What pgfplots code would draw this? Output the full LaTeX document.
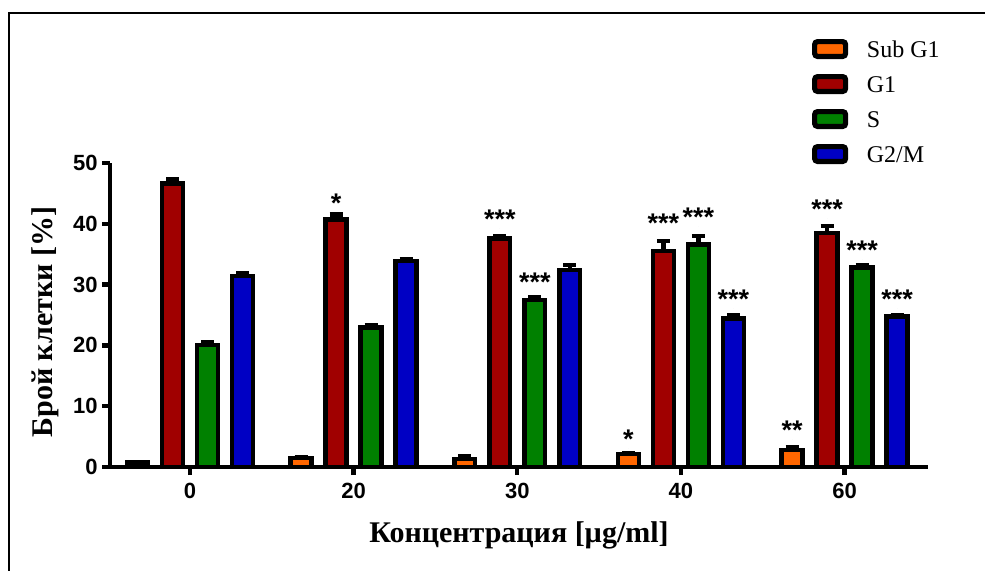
\documentclass[border=0pt]{standalone}
\usepackage{pgfplots}
\pgfplotsset{compat=1.18}
\usepackage{fontspec}
\setmainfont{Liberation Serif}
\newfontfamily\sansfnt{Liberation Sans}
\definecolor{cOr}{HTML}{FF6600}
\definecolor{cRe}{HTML}{A00000}
\definecolor{cGr}{HTML}{008000}
\definecolor{cBl}{HTML}{0000C4}
\pgfplotsset{
  mybar/.style={
    ybar, bar width=10.4pt, bar shift=#1, draw=black, line width=2.3pt,
    legend image code/.code={
      \draw[##1, line width=2.6pt, rounded corners=1.5pt] (0pt,0.3pt) rectangle (15.5pt,7.7pt);
      \path (25pt,4pt);
    },
    error bars/y dir=plus, error bars/y explicit,
    error bars/error bar style={line width=2.2pt, black, xshift=#1},
    error bars/error mark options={rotate=90, line width=2.2pt, mark size=3.25pt, black},
  },
}
\begin{document}
\begin{tikzpicture}
\useasboundingbox (0pt,0pt) rectangle (492.5pt,285pt);
\draw[line width=1.25pt] (4.5pt,-5pt) -- (4.5pt,278.6pt) -- (500pt,278.6pt);
\begin{axis}[
  at={(55pt,51.5pt)}, anchor=south west,
  scale only axis, width=409pt, height=152pt,
  xmin=-0.489, xmax=4.51, ymin=0, ymax=50,
  axis x line=bottom, axis y line=left,
  axis line style={line width=2.2pt, -},
  xtick={0,1,2,3,4}, xticklabels={0,20,30,40,60},
  ytick={0,10,20,30,40,50},
  tick align=outside, major tick length=4pt,
  tick style={line width=2.2pt, black},
  /pgf/number format/assume math mode=true,
  ticklabel style={font=\sansfnt\bfseries\fontsize{11}{11}\selectfont},
  xticklabel style={inner sep=0pt, anchor=north, yshift=-4pt},
  yticklabel style={inner sep=0pt, anchor=east, xshift=-2pt},
  xlabel={Концентрация [µg/ml]},
  ylabel={Брой клетки [\%]},
  label style={font=\bfseries\fontsize{15}{18}\selectfont},
  xlabel style={at={(axis description cs:0.5,-0.249)}, anchor=base},
  ylabel style={at={(axis description cs:-0.0795,0.477)}, anchor=center},
  legend style={at={(axis description cs:0.8582,1.4079)}, anchor=north west,
    draw=none, fill=none, inner sep=0pt, outer sep=0pt, row sep=5.5pt,
    font=\fontsize{12}{14}\selectfont,
    cells={anchor=base west},
    nodes={inner sep=0pt, text height=9pt, text depth=3pt}},
  clip=false,
]
\addplot[mybar=-26.25pt, fill=cOr] coordinates {
  (0,0.7) +- (0,0.1)
  (1,1.45) +- (0,0.1)
  (2,1.35) +- (0,0.5)
  (3,2.15) +- (0,0.1)
  (4,2.8) +- (0,0.5)
};
\addlegendentry{Sub G1}
\addplot[mybar=-8.75pt, fill=cRe] coordinates {
  (0,46.6) +- (0,0.7)
  (1,40.7) +- (0,0.8)
  (2,37.6) +- (0,0.4)
  (3,35.5) +- (0,1.7)
  (4,38.5) +- (0,1.1)
};
\addlegendentry{G1}
\addplot[mybar=8.75pt, fill=cGr] coordinates {
  (0,20.1) +- (0,0.5)
  (1,22.9) +- (0,0.5)
  (2,27.5) +- (0,0.4)
  (3,36.6) +- (0,1.4)
  (4,32.8) +- (0,0.4)
};
\addlegendentry{S}
\addplot[mybar=26.25pt, fill=cBl] coordinates {
  (0,31.4) +- (0,0.4)
  (1,33.9) +- (0,0.3)
  (2,32.4) +- (0,0.8)
  (3,24.4) +- (0,0.6)
  (4,24.8) +- (0,0.2)
};
\addlegendentry{G2/M}
\addplot[forget plot, only marks, mark=*, mark size=0pt, mark options={draw=none, fill=none},
  nodes near coords, point meta=explicit symbolic,
  nodes near coords style={anchor=base, inner sep=0pt, font=\sansfnt\bfseries\fontsize{13.5}{13.5}\selectfont}]
  table[meta=lab] {
x y lab
0.893 41.8 *
1.893 39.2 ***
2.107 28.9 ***
2.679 3.0 *
2.893 38.5 ***
3.107 39.5 ***
3.321 26.1 ***
3.679 4.5 **
3.893 40.8 ***
4.107 34.2 ***
4.321 26.1 ***
};
\end{axis}
\end{tikzpicture}
\end{document}
